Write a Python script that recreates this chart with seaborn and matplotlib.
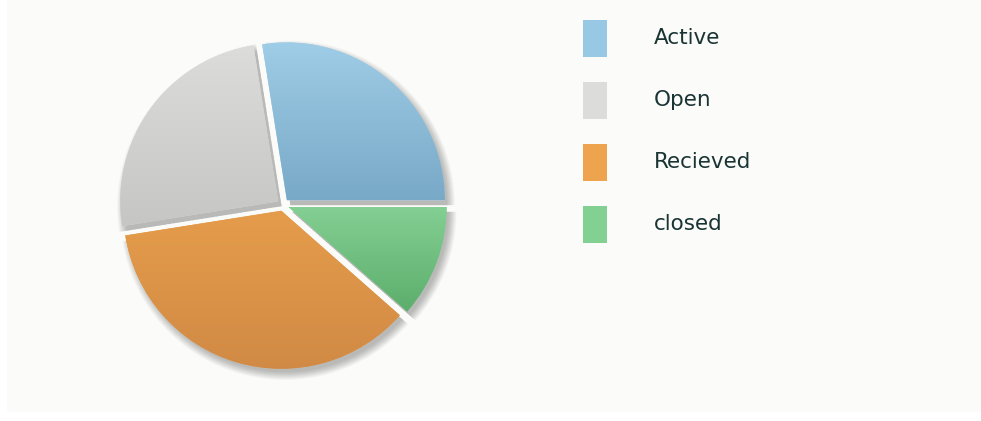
import numpy as np
import matplotlib
matplotlib.use("Agg")
import matplotlib.pyplot as plt
import seaborn as sns
from matplotlib.patches import Wedge, Rectangle
from matplotlib.colors import LinearSegmentedColormap

# data (legend order, drawn counter-clockwise from 3 o'clock)
labels = ['Active', 'Open', 'Recieved', 'closed']
counts = [55, 50, 72, 23]

top_colors = ['#a0cde7', '#dcdcda', '#e59c4b', '#84cf93']
bottom_colors = ['#78a9c7', '#c6c7c4', '#d18a45', '#5cae6c']
legend_colors = ['#98c9e4', '#dcdddb', '#eea44f', '#82d092']

sns.set_style('white')
plt.rcParams['font.family'] = ['DejaVu Sans']

W, H = 981, 421
fig = plt.figure(figsize=(W / 100, H / 100), dpi=100)
fig.patch.set_facecolor('white')
fig.patches.append(Rectangle((7 / W, 9 / H), 1 - 7 / W, 1 - 9 / H,
                             transform=fig.transFigure, facecolor='#fbfbf9',
                             edgecolor='none', zorder=-5))

# pie axes, centre at about (283, 205) px, radius ~158 px
R = 158
ax = fig.add_axes([(283 - 180) / W, (H - 205 - 180) / H, 360 / W, 360 / H])
wedges, _ = ax.pie(counts, startangle=0, counterclock=True,
                   explode=[6 / R] * len(counts), radius=1,
                   colors=top_colors, wedgeprops=dict(linewidth=0, zorder=1.5))
lim = 180 / R

# soft drop shadow
for w in wedges:
    cx, cy = w.center
    for i in range(14):
        grow = 0.004 * i
        sh = Wedge((cx + 0.022, cy - 0.03), w.r - 0.01 + grow, w.theta1, w.theta2,
                   facecolor='black', edgecolor='none', alpha=0.02, zorder=1)
        ax.add_patch(sh)

# vertical gradient inside each wedge
for w, c_top, c_bot in zip(wedges, top_colors, bottom_colors):
    verts = w.get_path().vertices
    x0, x1 = verts[:, 0].min(), verts[:, 0].max()
    y0, y1 = verts[:, 1].min(), verts[:, 1].max()
    cmap = LinearSegmentedColormap.from_list('g', [c_bot, c_top])
    grad = np.linspace(0, 1, 256).reshape(-1, 1)
    im = ax.imshow(grad, extent=(x0, x1, y0, y1), cmap=cmap, origin='lower',
                   aspect='auto', zorder=2, interpolation='bilinear')
    im.set_clip_path(w)

ax.set_xlim(-lim, lim)
ax.set_ylim(-lim, lim)
ax.axis('off')

# legend
lax = fig.add_axes([0, 0, 1, 1])
lax.set_xlim(0, W)
lax.set_ylim(H, 0)
lax.axis('off')
for i, (lab, col) in enumerate(zip(labels, legend_colors)):
    cy = 38 + 62 * i
    lax.add_patch(Rectangle((583, cy - 18), 24, 37, facecolor=col,
                            edgecolor='none'))
    lax.text(654, cy, lab, va='center', ha='left', fontsize=15.5,
             color='#1a3434')

fig.savefig('out.png', dpi=100)
